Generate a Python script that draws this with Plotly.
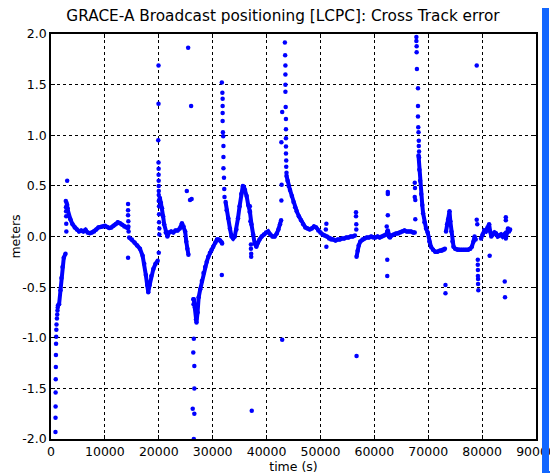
import plotly.graph_objects as go

# Main (dense) cross-track error track, seconds of day vs metres; None breaks the line
curve_t = [
    1500, 1760, 1940, 2130, 2370, 2690, None,
    2900, 3100, 3300, 3600, 4000, 4400, 4800, 5200, 5600, 6000, 6400, 6800, 7200,
    7600, 8000, 8400, 8800, 9200, 9600, 10000, 10400, 10800, 11200, 11600, 12000,
    12400, 12800, 13200, 13600, 14000, 14300, None,
    14500, 15000, 15500, 16000, 16500, 17000, 17300, 17600, 17850, 18050, 18300,
    18600, 19000, 19400, 19800, None,
    20000, 20200, 20400, 20600, 20800, 21000, 21300, 21600, 21900, 22300, 22700,
    23100, 23500, 23900, 24300, 24600, 24900, 25100, 25300, 25500, None,
    26500, 26700, 26900, 27000, 27200, 27400, 27700, 28000, 28300, 28600, 28900,
    29200, 29500, 29800, 30100, 30500, 30800, 31100, 31400, 31700, None,
    32400, 32600, 32900, 33200, 33500, 33800, 34100, 34400, 34700, 35000, 35300,
    35600, 35800, 36000, 36300, 36600, 36900, 37200, 37500, 37800, 38100, 38400,
    38700, 39100, 39500, 39900, 40300, 40700, 41100, 41500, 41900, 42200, 42500,
    42700, None,
    43700, 43900, 44100, 44350, 44700, 45000, 45300, 45600, 46000, 46400, 46800,
    47200, 47600, 48000, 48400, 48800, 49200, 49600, 50000, 50400, 50800, 51200,
    51600, 52000, 52400, 52800, 53200, 53600, 54000, 54400, 54800, 55200, 55600,
    56000, 56400, None,
    56700, 56900, 57100, 57400, 57800, 58200, 58600, 59000, 59400, 59800, 60200,
    60600, 61000, 61400, 61800, 62200, 62500, 62700, 62900, 63200, 63600, 64000,
    64400, 64800, 65200, 65600, 66000, 66400, 66800, 67200, 67500, None,
    68200, 68350, 68500, 68700, 68900, 69050, 69300, 69600, 69900, 70200, 70500,
    70900, 71300, 71700, 72100, 72500, 72900, 73100, None,
    73300, 73500, 73700, 73950, 74100, 74300, 74500, 74700, 75000, 75400, 75800,
    76200, 76600, 77000, 77400, 77800, 78100, 78400, 78600, 78800, None,
    79800, 80100, 80400, 80700, 81000, 81300, 81500, 81700, 82000, 82300, 82600,
    82900, 83200, 83500, 83800, 84100, 84400, 84600, 84800, 85000, 85200,
]
curve_v = [
    -0.67, -0.53, -0.41, -0.30, -0.21, -0.17, None,
    0.30, 0.25, 0.20, 0.17, 0.12, 0.09, 0.07, 0.05, 0.06, 0.05, 0.066, 0.04, 0.033,
    0.04, 0.05, 0.07, 0.09, 0.093, 0.10, 0.105, 0.095, 0.083, 0.09, 0.105, 0.12,
    0.14, 0.13, 0.115, 0.10, 0.09, 0.083, None,
    -0.01, -0.03, -0.06, -0.09, -0.12, -0.19, -0.27, -0.38, -0.48, -0.55, -0.48,
    -0.39, -0.32, -0.27, -0.24, None,
    0.35, 0.38, 0.33, 0.28, 0.20, 0.12, 0.04, 0.0, 0.04, 0.05, 0.04,
    0.06, 0.06, 0.08, 0.13, 0.10, 0.05, -0.05, -0.12, -0.18, None,
    -0.62, -0.70, -0.82, -0.85, -0.75, -0.60, -0.52, -0.44, -0.36, -0.30, -0.25,
    -0.20, -0.16, -0.13, -0.10, -0.06, -0.03, -0.03, -0.04, -0.06, None,
    0.34, 0.26, 0.18, 0.08, 0.0, -0.02, 0.0, 0.07, 0.18, 0.30, 0.42,
    0.50, 0.49, 0.46, 0.40, 0.31, 0.25, 0.12, 0.02, -0.07, -0.10, -0.06,
    -0.03, 0.0, 0.02, 0.04, 0.05, 0.02, 0.0, 0.0, 0.03, 0.07, 0.12,
    0.16, None,
    0.60, 0.55, 0.50, 0.46, 0.40, 0.34, 0.29, 0.25, 0.20, 0.16, 0.12,
    0.09, 0.08, 0.07, 0.08, 0.10, 0.09, 0.06, 0.04, 0.02, 0.01, 0.0,
    -0.02, -0.03, -0.03, -0.04, -0.03, -0.03, -0.02, -0.02, -0.01, -0.01, 0.0,
    0.0, 0.01, None,
    -0.20, -0.14, -0.09, -0.05, -0.03, -0.02, -0.01, -0.01, 0.0, -0.01, -0.01,
    0.0, -0.01, 0.0, 0.01, 0.02, 0.06, 0.0, -0.01, 0.01, 0.02, 0.03,
    0.03, 0.04, 0.05, 0.06, 0.05, 0.05, 0.05, 0.04, 0.04, None,
    0.80, 0.66, 0.55, 0.42, 0.31, 0.23, 0.14, 0.08, 0.04, -0.05, -0.10,
    -0.13, -0.15, -0.15, -0.14, -0.14, -0.13, -0.12, None,
    0.05, 0.12, 0.17, 0.25, 0.15, 0.05, -0.05, -0.10, -0.12, -0.13, -0.13,
    -0.13, -0.13, -0.13, -0.13, -0.12, -0.10, -0.05, 0.0, -0.03, None,
    -0.02, 0.02, 0.06, 0.05, 0.09, 0.12, 0.05, 0.0, 0.02, 0.04, 0.03,
    0.0, 0.01, 0.02, 0.0, 0.02, -0.02, 0.04, 0.08, 0.05, 0.07,
]

# Isolated samples: spikes and outliers
dot_t = [
    830, 840, 850, 860, 880, 900, 920, 940, 960, 990, 1020, 1100, 1150, 1200, 1250, 1300,
    2750, 2780, 2800, 2820, 2830, 2850, 3000, 2900, 3000, 3100,
    14300, 14300, 14300, 14350, 14350, 14400, 14300,
    19950, 19950, 19900, 19950, 19970, 19970, 19980, 19990, 20000, 20000,
    20050, 20050, 20050, 20100, 20100, 20000,
    25450, 26000, 25200, 25800, 26100,
    26500, 26400, 26600, 26600, 26300, 26600, 26500, 26400, 26450,
    31700, 31800, 31850, 31850, 31850, 31850, 31900, 31950, 32000, 32000,
    32000, 32100, 32150, 32200, 31700, 31750,
    36900, 36900, 37000, 37100, 37100, 37150, 37150, 37250,
    42800, 42750, 42750, 42900, 43400, 43450, 43500, 43500, 43500, 43500,
    43550, 43600, 43600, 43600, 43600, 43600, 43650, 43650, 43700, 42900,
    51100, 51100, 51000,
    56600, 56600, 56650, 56650, 56700,
    62500, 62500, 62500, 62400, 62400, 62300, 62400,
    67800, 67800, 67850, 67850, 67900, 68100, 68100, 68100, 68150, 68200,
    68250, 68250, 68300, 68300, 67500, 67550, 67500, 67600, 67600,
    73200, 73200,
    79200, 79200, 79220, 79220, 79250, 79250, 79300, 79000, 79000, 79100,
    81400,
    84200, 84250, 84400, 84400,
]
dot_v = [
    -1.93, -1.79, -1.68, -1.54, -1.41, -1.29, -1.17, -1.06, -0.99, -0.92, -0.87, -0.81, -0.77, -0.73, -0.70, -0.68,
    0.35, 0.29, 0.25, 0.20, 0.125, 0.05, 0.55, 0.33, 0.31, 0.28,
    0.32, 0.26, 0.21, 0.15, 0.10, 0.05, -0.21,
    1.69, 1.31, 0.95, 0.73, 0.67, 0.61, 0.55, 0.50, 0.45, 0.41,
    0.30, 0.22, 0.14, 0.08, 0.02, -0.16,
    1.865, 1.29, 0.45, 0.36, 0.37,
    -1.01, -1.145, -1.28, -1.50, -1.70, -1.75, -2.0, -0.62, -0.67,
    1.52, 1.42, 1.36, 1.29, 1.22, 1.14, 1.03, 0.99, 0.895, 0.785,
    0.675, 0.58, 0.47, 0.39, -0.38, -0.07,
    0.30, 0.24, 0.15, -0.08, -0.12, -0.17, -0.20, -1.72,
    0.51, 0.355, 0.93, 1.23, 1.915, 1.79, 1.69, 1.60, 1.50, 1.43,
    1.28, 1.16, 1.06, 0.97, 0.89, 0.82, 0.75, 0.69, 0.63, -1.02,
    0.125, -0.10, 0.07,
    0.24, 0.20, 0.12, 0.07, -1.18,
    0.44, 0.42, 0.21, -0.23, -0.39, 0.10, 0.05,
    1.97, 1.93, 1.88, 1.82, 1.655, 1.465, 1.29, 1.185, 1.08, 1.03,
    0.945, 0.895, 0.84, 0.78, 0.53, 0.48, 0.39, 0.36, 0.17,
    -0.48, -0.56,
    -0.23, -0.28, -0.33, -0.39, -0.42, -0.47, -0.53, 1.69, 0.165, 0.12,
    -0.19,
    -0.445, -0.60, 0.19, 0.16,
]

x_ticks = [0, 10000, 20000, 30000, 40000, 50000, 60000, 70000, 80000, 90000]
y_ticks = [2.0, 1.5, 1.0, 0.5, 0.0, -0.5, -1.0, -1.5, -2.0]
y_labels = ["2.0", "1.5", "1.0", "0.5", "0.0", "-0.5", "-1.0", "-1.5", "-2.0"]

BLUE = "#0000ff"
FONT = "DejaVu Sans"

fig = go.Figure()
fig.add_trace(go.Scatter(
    x=curve_t, y=curve_v, mode="lines+markers",
    line=dict(color=BLUE, width=4), marker=dict(color=BLUE, size=4.5),
    connectgaps=False, showlegend=False,
))
fig.add_trace(go.Scatter(
    x=dot_t, y=dot_v, mode="markers",
    marker=dict(color=BLUE, size=4.5), showlegend=False,
))

axis_common = dict(
    showline=True, linecolor="black", linewidth=1.5, mirror="ticks",
    ticks="inside", ticklen=4, tickcolor="black",
    showgrid=True, gridcolor="black", gridwidth=1, griddash="dot",
    zeroline=False, automargin=False,
    tickfont=dict(family=FONT, size=12.5, color="black"),
)
fig.update_xaxes(
    range=[0, 90000], tickvals=x_ticks, ticktext=[str(v) for v in x_ticks],
    title=dict(text="time (s)", font=dict(family=FONT, size=12.5, color="black"), standoff=2),
    **axis_common,
)
fig.update_yaxes(
    range=[-2, 2], tickvals=y_ticks, ticktext=y_labels,
    title=dict(text="meters", font=dict(family=FONT, size=12.5, color="black"), standoff=8),
    **axis_common,
)

# blue frame on the right edge of the window
fig.add_shape(type="rect", xref="paper", yref="paper", x0=1.0124, x1=1.0268,
              y0=-0.0815, y1=1.1, fillcolor="#1166ff", line=dict(width=0), layer="above")
fig.add_shape(type="line", xref="paper", yref="paper", x0=1.04, x1=1.04,
              y0=-0.0815, y1=1.1, line=dict(color="#1166ff", width=2), layer="above")
fig.add_shape(type="line", xref="paper", yref="paper", x0=1.0124, x1=1.041,
              y0=-0.0815, y1=-0.0815, line=dict(color="#1166ff", width=2), layer="above")

# page body adds an 8 px offset, so the figure is sized to fit the window
fig.update_layout(
    width=550, height=468,
    margin=dict(l=42.5, r=22, t=26, b=37),
    paper_bgcolor="white", plot_bgcolor="white",
    font=dict(family=FONT, color="black"),
    title=dict(text="GRACE-A Broadcast positioning [LCPC]: Cross Track error",
               x=0.5, xanchor="center", y=0.983, yanchor="middle",
               font=dict(family=FONT, size=15.3, color="black")),
)

fig.write_html("out.html")
